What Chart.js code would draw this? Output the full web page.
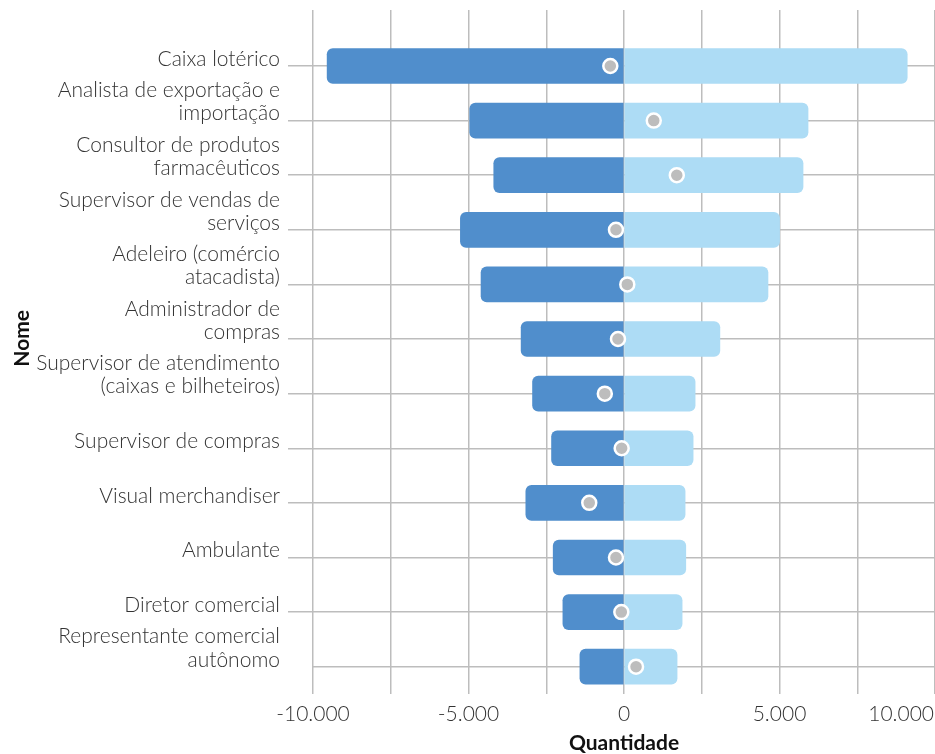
<!DOCTYPE html>
<html>
<head>
<meta charset="utf-8">
<script src="https://cdn.jsdelivr.net/npm/chart.js@4.4.1/dist/chart.umd.min.js"></script>
<style>
  html, body { margin: 0; padding: 0; background: #ffffff; }
  #wrap { width: 935px; height: 754px; }
</style>
</head>
<body>
<div id="wrap"><canvas id="c" width="935" height="754"></canvas></div>
<script>
// ---- data ----
const categories = [
  ['Caixa lotérico'],
  ['Analista de exportação e', 'importação'],
  ['Consultor de produtos', 'farmacêuticos'],
  ['Supervisor de vendas de', 'serviços'],
  ['Adeleiro (comércio', 'atacadista)'],
  ['Administrador de', 'compras'],
  ['Supervisor de atendimento', '(caixas e bilheteiros)'],
  ['Supervisor de compras'],
  ['Visual merchandiser'],
  ['Ambulante'],
  ['Diretor comercial'],
  ['Representante comercial', 'autônomo']
];
const negativeValues = [-9546, -4961, -4188, -5261, -4597, -3308, -2941, -2330, -3157, -2277, -1965, -1418];
const positiveValues = [9107, 5918, 5757, 5003, 4630, 3083, 2287, 2223, 1965, 1987, 1869, 1707];
const netValues = [-440, 957, 1697, -258, 106, -193, -617, -75, -1117, -258, -86, 387];
const xGridValues = [-10000, -7500, -5000, -2500, 0, 2500, 5000, 7500, 10000];
const xTickValues = [-10000, -5000, 0, 5000, 10000];
const xTickLabels = ['-10.000', '-5.000', '0', '5.000', '10.000'];
const xTitle = 'Quantidade';
const yTitle = 'Nome';

// ---- styles ----
const DARK = '#508ECC';
const LIGHT = '#ADDCF5';
const GRID = '#bdbdbd';
const LABEL_COLOR = '#333333';
const FONT = 'Lato';
const FS = 21;

Chart.defaults.font.family = FONT;

const textPlugin = {
  id: 'textExtras',
  afterDraw(chart) {
    const ctx = chart.ctx;
    const xs = chart.scales.x;
    const ys = chart.scales.y;
    ctx.save();
    ctx.font = '300 ' + FS + 'px ' + FONT;
    ctx.fillStyle = LABEL_COLOR;
    ctx.textBaseline = 'middle';
    ctx.textAlign = 'center';
    const W = chart.width;
    xTickValues.forEach((v, i) => {
      const t = xTickLabels[i];
      const w = ctx.measureText(t).width;
      let px = xs.getPixelForValue(v);
      if (px + w / 2 > W - 1) px = W - 1 - w / 2;
      ctx.fillText(t, px, chart.chartArea.bottom + 20);
    });
    // y-axis title, centred on the span from the top of the plot to the last category
    ctx.font = 'bold ' + FS + 'px ' + FONT;
    ctx.fillStyle = '#111';
    const cy = (chart.chartArea.top + ys.getPixelForValue(categories.length - 1)) / 2;
    ctx.translate(22, cy);
    ctx.rotate(-Math.PI / 2);
    ctx.fillText(yTitle, 0, 0);
    ctx.restore();
  }
};

new Chart(document.getElementById('c'), {
  type: 'bar',
  data: {
    datasets: [
      {
        type: 'scatter',
        label: 'Saldo',
        data: netValues.map((v, i) => ({ x: v, y: i })),
        backgroundColor: '#bdbdbd',
        borderColor: '#ffffff',
        borderWidth: 2.5,
        pointRadius: 7,
        pointHoverRadius: 7,
        showLine: false,
        order: 0
      },
      {
        label: 'Desligamentos',
        data: negativeValues.map((v, i) => ({ x: v, y: i })),
        backgroundColor: DARK,
        barThickness: 35,
        borderRadius: 6,
        borderSkipped: 'start',
        order: 1
      },
      {
        label: 'Admissões',
        data: positiveValues.map((v, i) => ({ x: v, y: i })),
        backgroundColor: LIGHT,
        barThickness: 35,
        borderRadius: 6,
        borderSkipped: 'start',
        order: 1
      }
    ]
  },
  options: {
    indexAxis: 'y',
    responsive: false,
    devicePixelRatio: 1,
    animation: false,
    layout: { autoPadding: false, padding: { top: 10, left: 0, right: 0, bottom: 0 } },
    plugins: { legend: { display: false }, tooltip: { enabled: false } },
    scales: {
      x: {
        type: 'linear',
        position: 'bottom',
        offset: false,
        min: -10000,
        max: 10000,
        stacked: true,
        afterBuildTicks: (s) => { s.ticks = xGridValues.map(v => ({ value: v })); },
        ticks: { display: false },
        grid: { color: GRID, lineWidth: 1.5, drawTicks: false, offset: false },
        border: { display: false },
        title: {
          display: true,
          text: xTitle,
          color: '#111',
          font: { family: FONT, size: FS, weight: 'bold', lineHeight: 1 },
          padding: { top: 0, bottom: 0 }
        },
        afterFit: (s) => { s.height = 60; s.paddingLeft = 0; s.paddingRight = 0; }
      },
      y: {
        type: 'linear',
        position: 'left',
        offset: false,
        reverse: true,
        min: -1.025,
        max: 11.5,
        stacked: true,
        afterBuildTicks: (s) => { s.ticks = categories.map((_, i) => ({ value: i })); },
        ticks: {
          autoSkip: false,
          padding: 8,
          labelOffset: -18.5,
          color: LABEL_COLOR,
          font: { family: FONT, size: FS, weight: '300', lineHeight: 1.1 },
          callback: (v) => {
            const lines = categories[v];
            if (!lines) return '';
            return lines.length === 1 ? ['', lines[0]] : lines;
          }
        },
        grid: {
          offset: false,
          color: GRID,
          lineWidth: 1.5,
          tickLength: 25,
          tickColor: (ctx) => (ctx.index === categories.length - 1 ? 'rgba(0,0,0,0)' : GRID)
        },
        border: { display: false },
        title: { display: false },
        afterFit: (s) => { s.width = 313; s.paddingTop = 0; s.paddingBottom = 0; }
      }
    }
  },
  plugins: [textPlugin]
});
</script>
</body>
</html>
